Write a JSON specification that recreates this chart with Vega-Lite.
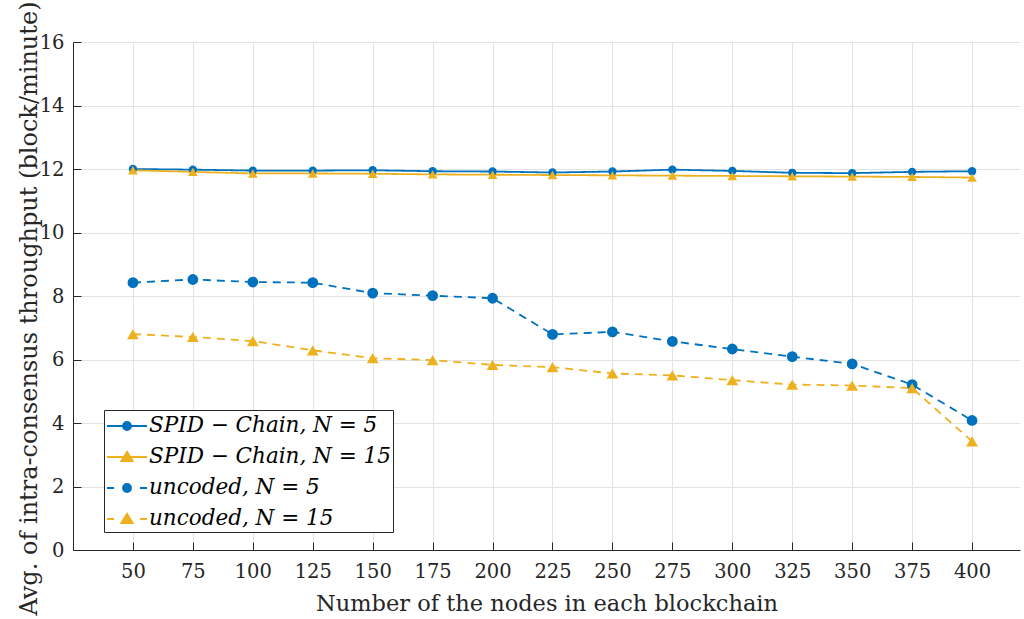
{
  "$schema": "https://vega.github.io/schema/vega-lite/v6.json",
  "width": 947,
  "height": 508,
  "autosize": "none",
  "padding": {"left": 73, "top": 42, "right": 4, "bottom": 69},
  "background": "white",
  "config": {
    "view": {"stroke": null},
    "font": "DejaVu Serif",
    "axis": {
      "labelFont": "DejaVu Serif",
      "titleFont": "DejaVu Serif",
      "labelFontSize": 19.5,
      "titleFontWeight": "normal",
      "labelColor": "#262626",
      "titleColor": "#262626",
      "domainColor": "#262626",
      "tickColor": "#262626",
      "gridColor": "#e3e3e3",
      "gridWidth": 1,
      "tickSize": -8,
      "domainWidth": 1
    },
    "legend": {
      "title": null,
      "orient": "none",
      "legendX": 31,
      "legendY": 368,
      "direction": "vertical",
      "columns": 1,
      "padding": 2,
      "rowPadding": 6,
      "fillColor": "white",
      "strokeColor": "#262626",
      "cornerRadius": 0,
      "symbolSize": 676,
      "symbolOpacity": 1,
      "symbolStrokeWidth": 1.8,
      "labelFont": "DejaVu Serif",
      "labelFontStyle": "italic",
      "labelFontSize": 21.5,
      "labelColor": "#000000",
      "labelOffset": 15,
      "labelLimit": 500
    }
  },
  "data": {
    "values": [
      {"n": 50, "v": 12.0, "s": "SPID − Chain, N = 5"},
      {"n": 75, "v": 11.98, "s": "SPID − Chain, N = 5"},
      {"n": 100, "v": 11.95, "s": "SPID − Chain, N = 5"},
      {"n": 125, "v": 11.95, "s": "SPID − Chain, N = 5"},
      {"n": 150, "v": 11.96, "s": "SPID − Chain, N = 5"},
      {"n": 175, "v": 11.93, "s": "SPID − Chain, N = 5"},
      {"n": 200, "v": 11.92, "s": "SPID − Chain, N = 5"},
      {"n": 225, "v": 11.89, "s": "SPID − Chain, N = 5"},
      {"n": 250, "v": 11.92, "s": "SPID − Chain, N = 5"},
      {"n": 275, "v": 11.98, "s": "SPID − Chain, N = 5"},
      {"n": 300, "v": 11.94, "s": "SPID − Chain, N = 5"},
      {"n": 325, "v": 11.88, "s": "SPID − Chain, N = 5"},
      {"n": 350, "v": 11.87, "s": "SPID − Chain, N = 5"},
      {"n": 375, "v": 11.91, "s": "SPID − Chain, N = 5"},
      {"n": 400, "v": 11.93, "s": "SPID − Chain, N = 5"},
      {"n": 50, "v": 11.96, "s": "SPID − Chain, N = 15"},
      {"n": 75, "v": 11.91, "s": "SPID − Chain, N = 15"},
      {"n": 100, "v": 11.86, "s": "SPID − Chain, N = 15"},
      {"n": 125, "v": 11.86, "s": "SPID − Chain, N = 15"},
      {"n": 150, "v": 11.85, "s": "SPID − Chain, N = 15"},
      {"n": 175, "v": 11.83, "s": "SPID − Chain, N = 15"},
      {"n": 200, "v": 11.82, "s": "SPID − Chain, N = 15"},
      {"n": 225, "v": 11.81, "s": "SPID − Chain, N = 15"},
      {"n": 250, "v": 11.8, "s": "SPID − Chain, N = 15"},
      {"n": 275, "v": 11.79, "s": "SPID − Chain, N = 15"},
      {"n": 300, "v": 11.78, "s": "SPID − Chain, N = 15"},
      {"n": 325, "v": 11.77, "s": "SPID − Chain, N = 15"},
      {"n": 350, "v": 11.76, "s": "SPID − Chain, N = 15"},
      {"n": 375, "v": 11.75, "s": "SPID − Chain, N = 15"},
      {"n": 400, "v": 11.73, "s": "SPID − Chain, N = 15"},
      {"n": 50, "v": 8.42, "s": "uncoded, N = 5"},
      {"n": 75, "v": 8.52, "s": "uncoded, N = 5"},
      {"n": 100, "v": 8.44, "s": "uncoded, N = 5"},
      {"n": 125, "v": 8.42, "s": "uncoded, N = 5"},
      {"n": 150, "v": 8.09, "s": "uncoded, N = 5"},
      {"n": 175, "v": 8.01, "s": "uncoded, N = 5"},
      {"n": 200, "v": 7.93, "s": "uncoded, N = 5"},
      {"n": 225, "v": 6.79, "s": "uncoded, N = 5"},
      {"n": 250, "v": 6.87, "s": "uncoded, N = 5"},
      {"n": 275, "v": 6.57, "s": "uncoded, N = 5"},
      {"n": 300, "v": 6.33, "s": "uncoded, N = 5"},
      {"n": 325, "v": 6.09, "s": "uncoded, N = 5"},
      {"n": 350, "v": 5.86, "s": "uncoded, N = 5"},
      {"n": 375, "v": 5.21, "s": "uncoded, N = 5"},
      {"n": 400, "v": 4.08, "s": "uncoded, N = 5"},
      {"n": 50, "v": 6.8, "s": "uncoded, N = 15"},
      {"n": 75, "v": 6.71, "s": "uncoded, N = 15"},
      {"n": 100, "v": 6.58, "s": "uncoded, N = 15"},
      {"n": 125, "v": 6.29, "s": "uncoded, N = 15"},
      {"n": 150, "v": 6.04, "s": "uncoded, N = 15"},
      {"n": 175, "v": 5.98, "s": "uncoded, N = 15"},
      {"n": 200, "v": 5.83, "s": "uncoded, N = 15"},
      {"n": 225, "v": 5.76, "s": "uncoded, N = 15"},
      {"n": 250, "v": 5.56, "s": "uncoded, N = 15"},
      {"n": 275, "v": 5.5, "s": "uncoded, N = 15"},
      {"n": 300, "v": 5.35, "s": "uncoded, N = 15"},
      {"n": 325, "v": 5.21, "s": "uncoded, N = 15"},
      {"n": 350, "v": 5.18, "s": "uncoded, N = 15"},
      {"n": 375, "v": 5.1, "s": "uncoded, N = 15"},
      {"n": 400, "v": 3.42, "s": "uncoded, N = 15"}
    ]
  },
  "encoding": {
    "x": {
      "field": "n",
      "type": "quantitative",
      "scale": {"domain": [25, 420], "nice": false, "zero": false},
      "axis": {
        "values": [50, 75, 100, 125, 150, 175, 200, 225, 250, 275, 300, 325, 350, 375, 400],
        "title": "Number of the nodes in each blockchain",
        "titleFontSize": 22.5,
        "labelPadding": 20,
        "titlePadding": 12,
        "grid": true
      }
    },
    "y": {
      "field": "v",
      "type": "quantitative",
      "scale": {"domain": [0, 16], "nice": false},
      "axis": {
        "values": [0, 2, 4, 6, 8, 10, 12, 14, 16],
        "title": "Avg. of intra-consensus throughput (block/minute)",
        "titleFontSize": 24,
        "titleY": 266,
        "labelPadding": 17,
        "titlePadding": -2,
        "grid": true
      }
    }
  },
  "resolve": {"scale": {"color": "independent", "shape": "independent", "stroke": "independent", "size": "independent"}},
  "layer": [
    {
      "mark": {"type": "point", "filled": true, "opacity": 0, "size": 10},
      "encoding": {
        "color": {
          "field": "s",
          "type": "nominal",
          "scale": {
            "domain": ["SPID − Chain, N = 5", "SPID − Chain, N = 15", "uncoded, N = 5", "uncoded, N = 15"],
            "range": ["#0072BD", "#EDB120", "#0072BD", "#EDB120"]
          },
          "legend": {}
        },
        "stroke": {
          "field": "s",
          "type": "nominal",
          "scale": {
            "domain": ["SPID − Chain, N = 5", "SPID − Chain, N = 15", "uncoded, N = 5", "uncoded, N = 15"],
            "range": ["#0072BD", "#EDB120", "#0072BD", "#EDB120"]
          },
          "legend": {}
        },
        "shape": {
          "field": "s",
          "type": "nominal",
          "scale": {
            "domain": ["SPID − Chain, N = 5", "SPID − Chain, N = 15", "uncoded, N = 5", "uncoded, N = 15"],
            "range": [
              "M-1,0H2.08M0.85,0A0.31,0.31 0 1 1 0.23,0A0.31,0.31 0 1 1 0.85,0Z",
              "M-1,0H2.08M0.54,-0.4L0.98,0.32L0.1,0.32Z",
              "M-1,0H-0.46M1.54,0H2.08M0.85,0A0.31,0.31 0 1 1 0.23,0A0.31,0.31 0 1 1 0.85,0Z",
              "M-1,0H-0.46M1.54,0H2.08M0.54,-0.4L0.98,0.32L0.1,0.32Z"
            ]
          },
          "legend": {}
        }
      }
    },
    {
      "mark": {"type": "line", "strokeWidth": 1.8},
      "encoding": {
        "color": {
          "field": "s",
          "type": "nominal",
          "scale": {
            "domain": ["SPID − Chain, N = 5", "SPID − Chain, N = 15", "uncoded, N = 5", "uncoded, N = 15"],
            "range": ["#0072BD", "#EDB120", "#0072BD", "#EDB120"]
          },
          "legend": null
        },
        "strokeDash": {
          "field": "s",
          "type": "nominal",
          "scale": {
            "domain": ["SPID − Chain, N = 5", "SPID − Chain, N = 15", "uncoded, N = 5", "uncoded, N = 15"],
            "range": [[1, 0], [1, 0], [8, 6], [8, 6]]
          },
          "legend": null
        }
      }
    },
    {
      "mark": {"type": "point", "filled": true, "opacity": 1},
      "encoding": {
        "color": {
          "field": "s",
          "type": "nominal",
          "scale": {
            "domain": ["SPID − Chain, N = 5", "SPID − Chain, N = 15", "uncoded, N = 5", "uncoded, N = 15"],
            "range": ["#0072BD", "#EDB120", "#0072BD", "#EDB120"]
          },
          "legend": null
        },
        "shape": {
          "field": "s",
          "type": "nominal",
          "scale": {
            "domain": ["SPID − Chain, N = 5", "SPID − Chain, N = 15", "uncoded, N = 5", "uncoded, N = 15"],
            "range": ["circle", "triangle-up", "circle", "triangle-up"]
          },
          "legend": null
        },
        "size": {
          "field": "s",
          "type": "nominal",
          "scale": {
            "domain": ["SPID − Chain, N = 5", "SPID − Chain, N = 15", "uncoded, N = 5", "uncoded, N = 15"],
            "range": [70, 140, 70, 140]
          },
          "legend": null
        }
      }
    }
  ]
}
